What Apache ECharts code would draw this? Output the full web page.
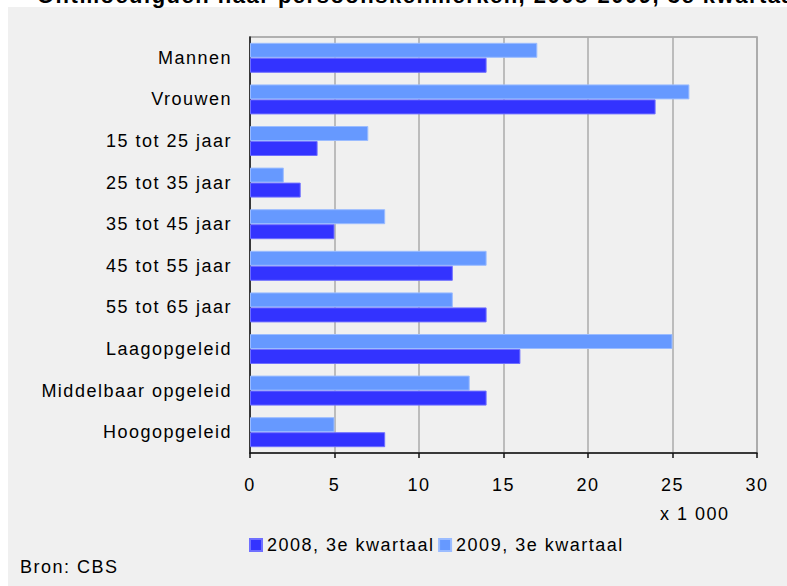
<!DOCTYPE html>
<html>
<head>
<meta charset="utf-8">
<script src="https://cdn.jsdelivr.net/npm/echarts@6/dist/echarts.min.js"></script>
<style>
  html, body { margin: 0; padding: 0; background: #ffffff; }
  #chart { width: 787px; height: 586px; letter-spacing: 1.5px; }
</style>
</head>
<body>
<div id="chart"></div>
<script>
// Ontmoedigden naar persoonskenmerken (x 1 000)
const categories = [
  'Mannen', 'Vrouwen', '15 tot 25 jaar', '25 tot 35 jaar', '35 tot 45 jaar',
  '45 tot 55 jaar', '55 tot 65 jaar', 'Laagopgeleid', 'Middelbaar opgeleid', 'Hoogopgeleid'
];
const values2008 = [14, 24, 4, 3, 5, 12, 14, 16, 14, 8];
const values2009 = [17, 26, 7, 2, 8, 14, 12, 25, 13, 5];
const seriesNames = ['2008, 3e kwartaal', '2009, 3e kwartaal'];
const xTicks = { min: 0, max: 30, interval: 5 };

const FONT = 'Liberation Sans, Arial, sans-serif';
const chart = echarts.init(document.getElementById('chart'), null, { renderer: 'svg' });

chart.setOption({
  backgroundColor: '#ffffff',
  textStyle: { fontFamily: FONT, fontSize: 18, color: '#000' },
  animation: false,
  graphic: [
    {
      type: 'text', left: 37, top: -16, z: 0,
      style: {
        text: 'Ontmoedigden naar persoonskenmerken, 2008-2009, 3e kwartaal',
        font: 'bold 22px ' + FONT, fill: '#000'
      }
    },
    {
      type: 'rect', z: -1, silent: true,
      shape: { x: 8, y: 7, width: 779, height: 579 },
      style: { fill: '#f0f0f0' }
    },
    {
      type: 'text', right: 68, top: 505,
      style: { text: 'x 1 000', font: '18px ' + FONT, fill: '#000' }
    },
    {
      type: 'text', left: 20, top: 558,
      style: { text: 'Bron: CBS', font: '18px ' + FONT, fill: '#000' }
    }
  ],
  legend: {
    left: 244, top: 531,
    icon: 'rect', itemWidth: 12, itemHeight: 12, itemGap: 29,
    textStyle: { fontFamily: FONT, fontSize: 18, color: '#000' },
    data: seriesNames
  },
  grid: {
    left: 250, right: 30, top: 37, bottom: 133,
    show: true, borderColor: '#9a9a9a', borderWidth: 1.5, backgroundColor: 'transparent'
  },
  xAxis: {
    type: 'value', min: xTicks.min, max: xTicks.max, interval: xTicks.interval,
    axisLine: { show: true, lineStyle: { color: '#111', width: 1.5 } },
    axisTick: { show: true, length: 5, lineStyle: { color: '#111', width: 1.5 } },
    axisLabel: { margin: 23, fontSize: 18, color: '#000', fontFamily: FONT },
    splitLine: { show: true, lineStyle: { color: '#ababab', width: 1.5 } }
  },
  yAxis: {
    type: 'category', inverse: true, data: categories,
    axisLine: { show: true, lineStyle: { color: '#111', width: 1.5 } },
    axisTick: { show: false },
    axisLabel: { margin: 18, fontSize: 18, color: '#000', fontFamily: FONT }
  },
  // 2009 is listed first so its bar sits above the 2008 bar in each row
  series: [
    {
      name: seriesNames[1], type: 'bar', data: values2009,
      barWidth: 15, barGap: '0%',
      itemStyle: { color: '#6699ff', borderColor: '#9bbcff', borderWidth: 1 }
    },
    {
      name: seriesNames[0], type: 'bar', data: values2008,
      barWidth: 15, barGap: '0%',
      itemStyle: { color: '#3333ff', borderColor: '#6f6fff', borderWidth: 1 }
    }
  ]
});
</script>
</body>
</html>
